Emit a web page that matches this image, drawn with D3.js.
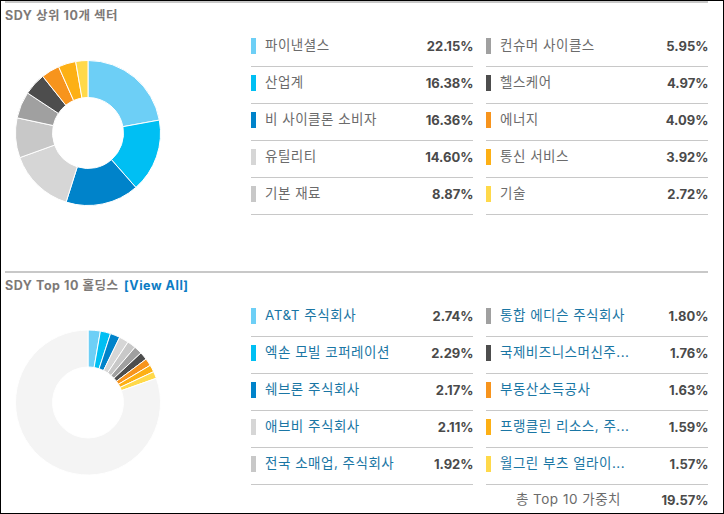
<!DOCTYPE html>
<html>
<head>
<meta charset="utf-8">
<script src="https://d3js.org/d3.v7.min.js"></script>
<style>
  html, body { margin: 0; padding: 0; background: #fff; }
  svg { display: block; }
  text { font-family: "Inter", "Noto Sans CJK KR", sans-serif; }
  .title { font-size: 12.5px; font-weight: 700; fill: #7d7977; letter-spacing: 0.55px; }
  .name { font-size: 13.5px; font-weight: 400; letter-spacing: 0.5px; }
  .val { font-size: 13px; font-weight: 700; fill: #4a4a4a; text-anchor: end; }
</style>
</head>
<body>
<svg class="chart" width="724" height="514"></svg>
<script>
// sector table
var sectorNames = ["파이낸셜스", "산업계", "비 사이클론 소비자", "유틸리티", "기본 재료",
                   "컨슈머 사이클스", "헬스케어", "에너지", "통신 서비스", "기술"];
var sectorValues = [22.15, 16.38, 16.36, 14.60, 8.87, 5.95, 4.97, 4.09, 3.92, 2.72];

// holdings table
var holdingNames = ["AT&T 주식회사", "엑손 모빌 코퍼레이션", "쉐브론 주식회사", "애브비 주식회사", "전국 소매업, 주식회사",
                    "통합 에디슨 주식회사", "국제비즈니스머신주...", "부동산소득공사", "프랭클린 리소스, 주...", "월그린 부츠 얼라이..."];
var holdingValues = [2.74, 2.29, 2.17, 2.11, 1.92, 1.80, 1.76, 1.63, 1.59, 1.57];
var holdingRest = 80.43;
var holdingTotal = 19.57;

var sliceColors = ["#6dcff6", "#00bff3", "#0083ca", "#d6d6d6", "#c8c8c8",
                   "#a0a0a0", "#4d4d4d", "#f7941d", "#fdb015", "#ffd94a"];
var restColor = "#f4f4f4";

var svg = d3.select(".chart");
var fmt = d3.format(".2f");

var pie = d3.pie().sort(null).value(function(d) { return d; });
var arc = d3.arc().innerRadius(35.5).outerRadius(72.5);

// rows: five per column, two columns
var rowIdx = d3.range(5);
var colX = d3.scaleOrdinal().domain([0, 1]).range([251, 486]);
var colW = 222;

function drawDonut(values, colors, cy) {
  svg.append("g")
    .attr("transform", "translate(88," + cy + ")")
    .selectAll("path").data(pie(values)).enter()
    .append("path")
      .attr("d", arc)
      .attr("fill", function(d, i) { return colors[i]; })
      .attr("stroke", "#fff")
      .attr("stroke-width", 1);
}

function drawTable(names, values, top, nameColor) {
  var y = d3.scaleBand().domain(rowIdx).range([top, top + 185]);
  names.forEach(function(name, i) {
    var col = i < 5 ? 0 : 1;
    var row = i % 5;
    var x0 = colX(col);
    var g = svg.append("g").attr("transform", "translate(" + x0 + "," + y(row) + ")");
    g.append("rect").attr("x", 0).attr("y", 1).attr("width", 5).attr("height", 16)
      .attr("fill", sliceColors[i]);
    g.append("text").attr("class", "name").attr("x", 14).attr("y", 12.5)
      .attr("fill", nameColor).text(name);
    g.append("text").attr("class", "val").attr("x", colW + 0.5).attr("y", 13.5)
      .text(fmt(values[i]) + "%");
    g.append("line").attr("x1", 0).attr("x2", colW).attr("y1", 29.5).attr("y2", 29.5)
      .attr("stroke", "#c8c8c8").attr("stroke-width", 1);
  });
}

// outer frame of the screenshot
svg.append("rect").attr("x", 0).attr("y", 0).attr("width", 1).attr("height", 514).attr("fill", "#000");
svg.append("rect").attr("x", 723).attr("y", 0).attr("width", 1).attr("height", 514).attr("fill", "#000");
svg.append("rect").attr("x", 0).attr("y", 513).attr("width", 724).attr("height", 1).attr("fill", "#000");
svg.append("rect").attr("x", 0).attr("y", 0).attr("width", 724).attr("height", 1).attr("fill", "#000");

// section rules
[1, 271].forEach(function(y) {
  svg.append("rect").attr("x", 5).attr("y", y).attr("width", 703).attr("height", 2).attr("fill", "#c8c8c8");
});

// top section
svg.append("text").attr("class", "title").attr("x", 5).attr("y", 20).text("SDY 상위 10개 섹터");
drawDonut(sectorValues, sliceColors, 133);
drawTable(sectorNames, sectorValues, 37, "#6b6b6b");

// bottom section
var t2 = svg.append("text").attr("class", "title").attr("x", 5).attr("y", 290);
t2.append("tspan").text("SDY Top 10 홀딩스");
t2.append("tspan").attr("x", 124).attr("fill", "#0c7cc4").text("[View All]");
drawDonut(holdingValues.concat([holdingRest]), sliceColors.concat([restColor]), 402.5);
drawTable(holdingNames, holdingValues, 307, "#1a76a4");

// total row
svg.append("text").attr("class", "name").attr("x", 621).attr("y", 504).attr("text-anchor", "end")
  .attr("letter-spacing", "0.2px").attr("fill", "#6b6b6b").text("총 Top 10 가중치");
svg.append("text").attr("class", "val").attr("x", 708.5).attr("y", 504.5).text(fmt(holdingTotal) + "%");
</script>
</body>
</html>
